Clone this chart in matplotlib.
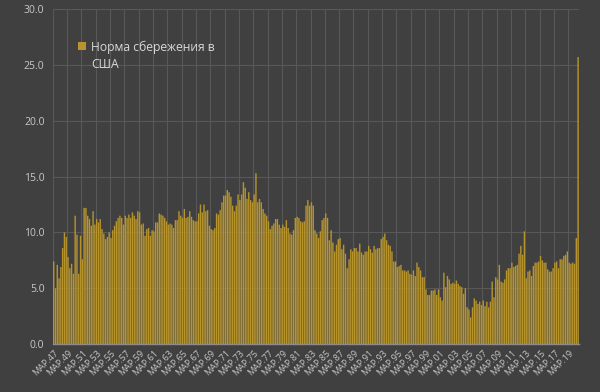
import matplotlib
matplotlib.use('Agg')

import matplotlib.pyplot as plt
import numpy as np

plt.rcParams['font.family'] = ['Open Sans', 'DejaVu Sans']

# Quarterly US personal saving rate, 1947 Q1 - 2020 Q2 (%)
y1947_1959 = [7.4, 5.0, 7.1, 5.9, 6.9, 8.6, 10.0, 9.6, 7.8, 6.8, 7.2, 6.3,
              11.5, 9.8, 6.3, 9.7, 7.6, 12.2, 12.2, 11.5, 11.2, 10.6, 11.9, 10.7,
              11.2, 10.9, 11.2, 10.3, 9.9, 9.4, 9.6, 10.0, 9.5, 10.2, 10.6, 11.0,
              11.3, 11.5, 11.3, 10.7, 11.5, 11.3, 11.6, 11.3, 11.8, 11.5, 11.2, 11.9,
              11.8, 10.7, 10.8, 9.7]
y1960_1972 = [10.3, 10.4, 9.7, 10.2, 10.1, 10.9, 10.9, 11.7, 11.6, 11.5, 11.3, 11.0,
              10.7, 10.8, 10.7, 10.4, 11.1, 11.1, 11.9, 11.5, 11.3, 12.1, 11.3, 11.4,
              11.9, 11.4, 11.1, 11.0, 11.0, 11.7, 12.5, 11.8, 12.5, 11.9, 12.0, 10.6,
              10.3, 10.2, 10.4, 11.7, 11.6, 12.0, 12.7, 13.3, 13.3, 13.8, 13.6, 13.2,
              12.4, 11.9, 12.4, 13.4]
y1973_1985 = [12.9, 13.4, 14.5, 14.0, 13.0, 13.6, 12.9, 12.7, 13.4, 15.3, 12.7, 13.0,
              12.7, 12.1, 11.7, 11.5, 11.0, 10.3, 10.6, 10.8, 11.2, 11.2, 10.7, 10.4,
              10.7, 10.5, 11.1, 10.4, 9.9, 9.8, 10.2, 11.3, 11.4, 11.3, 11.0, 10.9,
              11.0, 12.4, 12.9, 12.4, 12.7, 12.4, 10.2, 9.9, 9.5, 10.1, 11.1, 11.3,
              11.7, 11.3, 9.3, 10.2]
y1986_1998 = [9.1, 8.3, 8.9, 9.4, 9.5, 8.5, 8.9, 8.1, 6.8, 7.6, 8.5, 8.3,
              8.6, 8.6, 8.3, 9.0, 8.2, 8.0, 8.3, 8.3, 8.8, 8.5, 8.2, 8.8,
              8.5, 8.6, 8.6, 9.4, 9.6, 9.9, 9.3, 8.9, 8.8, 8.3, 7.4, 7.4,
              6.9, 7.0, 7.1, 6.6, 6.6, 6.5, 6.6, 6.3, 6.2, 6.6, 6.1, 7.3,
              6.9, 6.6, 6.0, 6.0]
y1999_2011 = [4.9, 4.4, 4.4, 4.8, 4.8, 4.9, 4.4, 4.9, 4.2, 3.9, 6.4, 5.1,
              6.1, 5.8, 5.4, 5.5, 5.4, 5.7, 5.4, 5.2, 5.1, 4.5, 5.0, 3.3,
              3.1, 2.4, 3.3, 4.1, 3.9, 3.6, 3.8, 3.5, 3.9, 3.4, 3.8, 3.3,
              3.8, 5.6, 4.2, 6.0, 5.8, 7.1, 5.6, 5.5, 5.8, 6.6, 6.8, 6.8,
              7.3, 6.9, 7.0, 7.1]
y2012_2020 = [8.1, 8.8, 8.0, 10.1, 5.9, 6.5, 6.6, 6.1, 7.0, 7.3, 7.3, 7.4,
              7.9, 7.5, 7.3, 7.3, 6.7, 6.5, 6.5, 6.8, 7.3, 7.4, 6.8, 7.6,
              7.6, 7.9, 8.0, 8.3, 7.3, 7.2, 7.3, 7.2, 9.5, 25.7]

rate = y1947_1959 + y1960_1972 + y1973_1985 + y1986_1998 + y1999_2011 + y2012_2020
years = list(range(1947, 2021))
quarter_labels = [f'МАР.{y % 100:02d}' for y in years]  # one label per 2 years

bg = '#404040'
gold = '#b8952c'
txt = '#c8c8c8'

fig = plt.figure(figsize=(6, 3.92), dpi=100, facecolor=bg)
ax = fig.add_axes([0.088, 0.122, 0.877, 0.855], facecolor=bg)

x = np.arange(len(rate))
bars = ax.bar(x, rate, width=0.78, color=gold, zorder=3, snap=False)

ax.set_xlim(-0.5, len(rate) - 0.5)
ax.set_ylim(0, 30)
ax.set_yticks(np.arange(0, 31, 5))
ax.set_yticklabels([f'{v:.1f}' for v in np.arange(0, 31, 5)])

ax.set_xticks(x[::8])
ax.set_xticklabels(quarter_labels[::2], rotation=45, ha='right',
                   rotation_mode='anchor', fontsize=6.5, color=txt)
ax.set_xticks(np.arange(-0.5, len(rate), 8), minor=True)

ax.tick_params(axis='x', which='both', length=0, pad=3)
ax.tick_params(axis='y', length=0, labelsize=7.5, labelcolor=txt, pad=6)

ax.grid(axis='y', color='#585858', linewidth=0.8, zorder=0)
ax.grid(axis='x', which='minor', color='#585858', linewidth=0.8, zorder=0)

for s in ['top', 'right', 'left']:
    ax.spines[s].set_visible(False)
ax.spines['bottom'].set_color('#8c8c8c')
ax.spines['bottom'].set_linewidth(1)
ax.spines['bottom'].set_zorder(4)

# legend: swatch beside the first line, label wraps onto a second line
leg = ax.legend([bars], ['Норма сбережения в'], loc='upper left',
                bbox_to_anchor=(0.036, 0.925), frameon=False, borderpad=0,
                fontsize=8.7, handlelength=0.65, handleheight=0.65,
                handletextpad=0.45, labelcolor='#d9d9d9')
fig.text(91 / 600, 1 - 64 / 392, 'США', fontsize=8.7, color='#d9d9d9',
         ha='left', va='center')

fig.savefig('out.png', dpi=100, facecolor=bg)
